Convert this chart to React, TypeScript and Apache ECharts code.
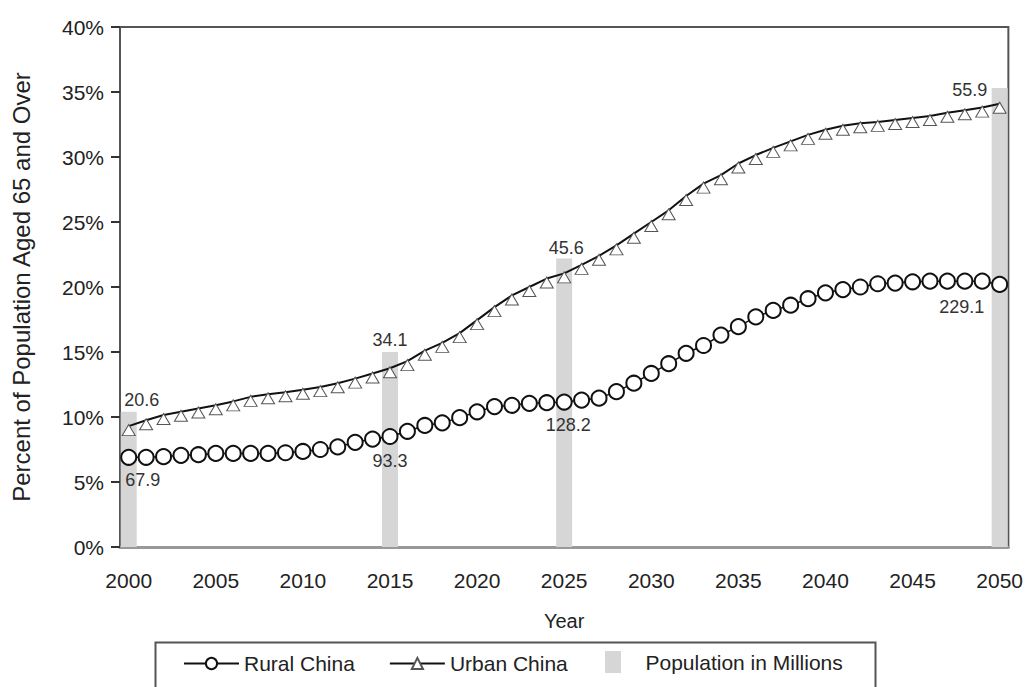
import React, { useEffect, useRef } from "react";
import * as echarts from "echarts";

// ---- data ----
const years: string[] = [];
for (let y = 2000; y <= 2050; y++) years.push(String(y));

const ruralPct = [
  6.9, 6.9, 6.95, 7.05, 7.1, 7.2, 7.2, 7.2, 7.2, 7.25,
  7.35, 7.5, 7.7, 8.05, 8.3, 8.5, 8.9, 9.35, 9.55, 9.95,
  10.4, 10.8, 10.9, 11.05, 11.1, 11.15, 11.3, 11.45, 11.95, 12.6,
  13.35, 14.1, 14.9, 15.5, 16.3, 16.95, 17.7, 18.2, 18.6, 19.1,
  19.55, 19.8, 20.0, 20.25, 20.3, 20.4, 20.45, 20.45, 20.45, 20.45,
  20.2,
];
const urbanPct = [
  9.3, 9.75, 10.15, 10.4, 10.65, 10.9, 11.2, 11.55, 11.75, 11.9,
  12.1, 12.3, 12.6, 12.95, 13.35, 13.75, 14.3, 15.1, 15.7, 16.45,
  17.45, 18.45, 19.35, 20.0, 20.65, 21.05, 21.7, 22.4, 23.2, 24.1,
  25.0, 25.9, 27.0, 27.95, 28.6, 29.5, 30.15, 30.7, 31.2, 31.7,
  32.1, 32.4, 32.6, 32.7, 32.85, 33.0, 33.15, 33.4, 33.6, 33.8,
  34.1,
];
const popYears = ["2000", "2015", "2025", "2050"];
const barHeights = [10.4, 15.0, 22.2, 35.3];
const urbanPop = [20.6, 34.1, 45.6, 55.9];
const ruralPop = [67.9, 93.3, 128.2, 229.1];
const yTicks = [0, 5, 10, 15, 20, 25, 30, 35, 40];

// ---- label offsets (style only) ----
const topLabelOffset: Record<string, number[]> = {
  "2000": [13, 0],
  "2015": [0, 0],
  "2025": [2, 2],
  "2050": [-30, 14],
};
const bottomLabelOffset: Record<string, number[]> = {
  "2000": [14, 0],
  "2015": [0, 2],
  "2025": [4, 0],
  "2050": [-38, 0],
};

const FONT = "'Liberation Sans', Arial, sans-serif";
const legendText = { fontSize: 21, color: "#222", fontFamily: FONT };

export default function App() {
  const ref = useRef<HTMLDivElement>(null);
  useEffect(() => {
    if (!ref.current) return;
    const chart = echarts.init(ref.current, undefined, { renderer: "svg" });

    const barData = years.map((y) => {
      const i = popYears.indexOf(y);
      if (i < 0) return null;
      return {
        value: barHeights[i],
        label: {
          show: true,
          position: "top",
          distance: 3,
          offset: topLabelOffset[y],
          formatter: String(urbanPop[i]),
        },
      };
    });

    const ruralData = years.map((y, k) => {
      const i = popYears.indexOf(y);
      if (i < 0) return ruralPct[k];
      return {
        value: ruralPct[k],
        label: {
          show: true,
          position: "bottom",
          distance: 5,
          offset: bottomLabelOffset[y],
          formatter: String(ruralPop[i]),
          fontSize: 18,
          color: "#333",
          fontFamily: FONT,
        },
      };
    });

    chart.setOption({
      animation: false,
      grid: {
        left: 120,
        right: 16,
        top: 27,
        bottom: 140,
        show: true,
        borderColor: "#555",
        borderWidth: 2,
        backgroundColor: "#fff",
      },
      legend: [
        {
          left: 178,
          top: 648,
          itemWidth: 55,
          itemHeight: 14,
          itemGap: 34,
          textStyle: legendText,
          data: [{ name: "Rural China" }, { name: "Urban China" }],
        },
        {
          left: 600,
          top: 646,
          itemWidth: 55,
          itemHeight: 22,
          textStyle: legendText,
          data: [{ name: "Population in Millions", icon: "path://M0,0h16v22h-16z" }],
        },
      ],
      graphic: [
        {
          type: "rect",
          left: 153,
          top: 640,
          shape: { width: 720, height: 60 },
          style: { fill: "none", stroke: "#555", lineWidth: 2 },
          silent: true,
        },
      ],
      xAxis: {
        type: "category",
        data: years,
        boundaryGap: true,
        name: "Year",
        nameLocation: "middle",
        nameGap: 64,
        nameTextStyle: { fontSize: 20, color: "#222", fontFamily: FONT },
        axisLine: { lineStyle: { color: "#999", width: 3 } },
        axisTick: { interval: 0, length: 6, lineStyle: { color: "#333", width: 1.5 } },
        axisLabel: {
          interval: 4,
          margin: 23,
          fontSize: 21,
          color: "#222",
          fontFamily: FONT,
        },
        splitLine: { show: false },
      },
      yAxis: {
        type: "value",
        min: yTicks[0],
        max: yTicks[yTicks.length - 1],
        interval: 5,
        name: "Percent of Population Aged 65 and Over",
        nameLocation: "middle",
        nameGap: 87,
        nameTextStyle: { fontSize: 24, color: "#222", fontFamily: FONT },
        axisLine: { show: true, lineStyle: { color: "#555", width: 2 } },
        axisTick: { show: true, length: 9, lineStyle: { color: "#333", width: 2 } },
        axisLabel: {
          formatter: "{value}%",
          margin: 16,
          fontSize: 21,
          color: "#222",
          fontFamily: FONT,
        },
        splitLine: { show: false },
      },
      series: [
        {
          name: "Population in Millions",
          type: "bar",
          data: barData,
          barWidth: 16,
          barGap: "-100%",
          itemStyle: { color: "#d6d6d6" },
          label: { fontSize: 18, color: "#333", fontFamily: FONT },
          z: 1,
        },
        {
          name: "Urban China",
          type: "line",
          data: urbanPct,
          symbol: "triangle",
          symbolSize: [13, 11],
          symbolOffset: [0, 4],
          showAllSymbol: true,
          itemStyle: { color: "#fff", borderColor: "#555", borderWidth: 1 },
          lineStyle: { color: "#111", width: 2 },
          z: 3,
        },
        {
          name: "Rural China",
          type: "line",
          data: ruralData,
          symbol: "circle",
          symbolSize: 15,
          showAllSymbol: true,
          itemStyle: { color: "#fff", borderColor: "#111", borderWidth: 2 },
          lineStyle: { color: "#111", width: 1.5 },
          z: 4,
        },
      ],
    });
    return () => chart.dispose();
  }, []);

  return (
    <div
      ref={ref}
      style={{ position: "fixed", left: 0, top: 0, width: 1026, height: 687, background: "#fff" }}
    />
  );
}
